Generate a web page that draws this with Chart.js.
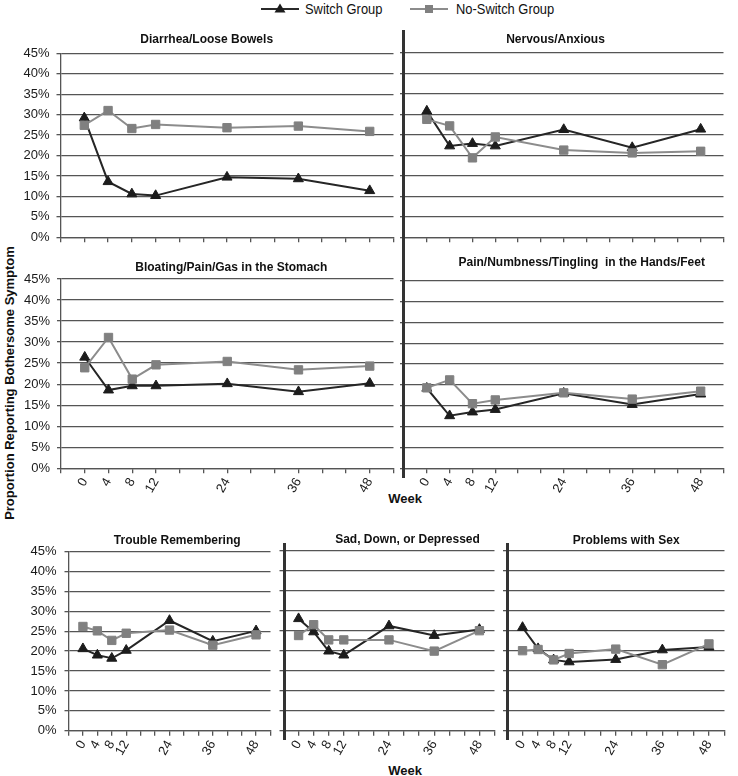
<!DOCTYPE html>
<html><head><meta charset="utf-8">
<script src="https://cdn.jsdelivr.net/npm/chart.js@4.4.1/dist/chart.umd.min.js"></script>
<style>
html,body{margin:0;padding:0;background:#fff;}
body{width:738px;height:776px;position:relative;overflow:hidden;font-family:'Liberation Sans',Arial,sans-serif;}
canvas{position:absolute;}
.divider{position:absolute;background:#333;width:3px;}
.lbl{position:absolute;font-weight:bold;color:#111;white-space:nowrap;}
.legtext{position:absolute;top:0px;font-size:15px;line-height:18px;color:#111;transform:scaleX(0.86);transform-origin:left center;white-space:nowrap;}
</style></head><body>
<div id="legend">
  <svg style="position:absolute;left:261px;top:2px" width="40" height="14"><line x1="0" y1="7" x2="38" y2="7" stroke="#2a2a2a" stroke-width="2"/><polygon points="19,1.5 24.5,10.5 13.5,10.5" fill="#1c1c1c"/></svg>
  <span class="legtext" id="leg0" style="left:305px"></span>
  <svg style="position:absolute;left:410px;top:2px" width="40" height="14"><line x1="0" y1="7" x2="38" y2="7" stroke="#8c8c8c" stroke-width="2"/><rect x="15" y="3" width="8" height="8" fill="#808080"/></svg>
  <span class="legtext" id="leg1" style="left:456px"></span>
</div>
<div class="lbl" id="ytitle" style="left:9px;top:383px;font-size:13px;transform:translate(-50%,-50%) rotate(-90deg);"></div>
<div class="lbl" id="week1" style="left:405px;top:498px;font-size:13px;transform:translate(-50%,-50%);"></div>
<div class="lbl" id="week2" style="left:405px;top:770px;font-size:13px;transform:translate(-50%,-50%);"></div>
<script>
// ---- data ----
const weeks = [0, 4, 8, 12, 24, 36, 48];
const weekTickLabels = ['0', '4', '8', '12', '24', '36', '48'];
const seriesNames = ['Switch Group', 'No-Switch Group'];
const yAxisTitle = 'Proportion Reporting Bothersome Symptom';
const xAxisTitle = 'Week';
const panelTitles = ['Diarrhea/Loose Bowels', 'Nervous/Anxious', 'Bloating/Pain/Gas in the Stomach',
  'Pain/Numbness/Tingling  in the Hands/Feet', 'Trouble Remembering', 'Sad, Down, or Depressed', 'Problems with Sex'];
const diarrheaSwitch   = [29.2, 13.6, 10.6, 10.2, 14.7, 14.3, 11.4];
const diarrheaNoSwitch = [27.4, 31.0, 26.6, 27.6, 26.8, 27.2, 25.9];
const nervousSwitch    = [30.8, 22.3, 22.9, 22.3, 26.3, 21.9, 26.4];
const nervousNoSwitch  = [28.8, 27.2, 19.4, 24.5, 21.3, 20.6, 21.0];
const bloatingSwitch   = [26.4, 18.6, 19.6, 19.6, 20.1, 18.2, 20.2];
const bloatingNoSwitch = [23.9, 31.1, 21.2, 24.6, 25.4, 23.4, 24.3];
const numbnessSwitch   = [19.2, 12.6, 13.5, 14.1, 18.0, 15.3, 17.8];
const numbnessNoSwitch = [19.3, 21.2, 15.5, 16.4, 18.1, 16.6, 18.5];
const rememberSwitch   = [20.6, 19.0, 18.2, 20.2, 27.7, 22.5, 25.1];
const rememberNoSwitch = [26.2, 25.1, 22.7, 24.5, 25.3, 21.5, 24.1];
const sadSwitch        = [28.0, 24.7, 19.9, 18.9, 26.2, 23.8, 25.3];
const sadNoSwitch      = [23.8, 26.5, 22.7, 22.7, 22.7, 19.9, 25.0];
const sexSwitch        = [25.8, 20.5, 17.7, 17.2, 17.8, 20.2, 20.9];
const sexNoSwitch      = [20.0, 20.3, 17.7, 19.3, 20.4, 16.5, 21.7];

// ---- text ----
document.getElementById('leg0').textContent = seriesNames[0];
document.getElementById('leg1').textContent = seriesNames[1];
document.getElementById('ytitle').textContent = yAxisTitle;
document.getElementById('week1').textContent = xAxisTitle;
document.getElementById('week2').textContent = xAxisTitle;

// ---- layout (page pixels) ----
const panels = [
  {s: diarrheaSwitch, n: diarrheaNoSwitch, area: [60.5, 53.3, 404.6, 237.3], title: [206.7, 39.3], yLabels: true,  xLabels: false, yPad: 7},
  {s: nervousSwitch,  n: nervousNoSwitch,  area: [404, 53, 735, 237.3],     title: [555.5, 39.3], yLabels: false, xLabels: false, yPad: 7},
  {s: bloatingSwitch, n: bloatingNoSwitch, area: [61, 279, 405, 468.3],     title: [231.3, 267.4], yLabels: true,  xLabels: true, yPad: 7},
  {s: numbnessSwitch, n: numbnessNoSwitch, area: [404, 280.7, 735, 468.3],  title: [581.7, 262.8], yLabels: false, xLabels: true, yPad: 7},
  {s: rememberSwitch, n: rememberNoSwitch, area: [68.5, 551.7, 281.9, 730.7], title: [177.2, 541], yLabels: true,  xLabels: true, yPad: 8},
  {s: sadSwitch,      n: sadNoSwitch,      area: [283.5, 550.7, 505.9, 730.7], title: [407.5, 540], yLabels: false, xLabels: true, yPad: 8},
  {s: sexSwitch,      n: sexNoSwitch,      area: [507, 550.7, 735.7, 730.7], title: [626.2, 540.5], yLabels: false, xLabels: true, yPad: 8}
];

Chart.defaults.font.family = "'Liberation Sans', Arial, sans-serif";
Chart.defaults.color = '#1a1a1a';

const panelTitlePlugin = {
  id: 'panelTitle',
  afterDraw(chart, args, opts) {
    const ctx = chart.ctx;
    ctx.save();
    ctx.font = "bold 12px 'Liberation Sans', Arial, sans-serif";
    ctx.fillStyle = '#111';
    ctx.textAlign = 'center';
    ctx.textBaseline = 'middle';
    ctx.fillText(opts.text, opts.x, opts.y);
    ctx.restore();
  }
};

const GRID = '#555555';

panels.forEach((p, i) => {
  const [l, t, r, b] = p.area;
  const cx = Math.max(0, Math.floor(l - 62));
  const cy = Math.floor(t - 32);
  const cw = Math.ceil(r - cx + 4);
  const ch = Math.ceil(b - cy + 52);
  const yW = l - cx;
  const xH = 46;
  const canvas = document.createElement('canvas');
  canvas.width = cw; canvas.height = ch;
  canvas.style.left = cx + 'px'; canvas.style.top = cy + 'px';
  canvas.style.width = cw + 'px'; canvas.style.height = ch + 'px';
  document.body.appendChild(canvas);
  const padTop = t - cy;
  const padRight = cx + cw - r;
  const padBottom = cy + ch - b - xH;
  new Chart(canvas, {
    type: 'line',
    data: {
      datasets: [
        {label: seriesNames[0], data: weeks.map((w, k) => ({x: w, y: p.s[k]})), order: 2,
         borderColor: '#262626', borderWidth: 2, backgroundColor: '#1c1c1c',
         pointStyle: 'triangle', pointRadius: 5.8, pointBorderWidth: 1, pointBorderColor: '#1c1c1c', pointBackgroundColor: '#1c1c1c', tension: 0},
        {label: seriesNames[1], data: weeks.map((w, k) => ({x: w, y: p.n[k]})), order: 1,
         borderColor: '#8c8c8c', borderWidth: 2, backgroundColor: '#808080',
         pointStyle: 'rect', pointRadius: 5.9, pointBorderWidth: 1, pointBorderColor: '#808080', pointBackgroundColor: '#808080', tension: 0}
      ]
    },
    options: {
      responsive: false, animation: false, devicePixelRatio: 1,
      layout: {padding: {left: 0, top: padTop, right: padRight, bottom: padBottom}},
      plugins: {legend: {display: false}, tooltip: {enabled: false}, title: {display: false},
        panelTitle: {text: panelTitles[i], x: p.title[0] - cx, y: p.title[1] - cy}},
      scales: {
        x: {type: 'linear', min: -4, max: 52,
          afterFit: (s) => { s.height = xH; },
          border: {display: true, color: GRID, width: 1.3},
          grid: {drawOnChartArea: false, drawTicks: true, tickLength: 5, color: GRID, lineWidth: 1.3},
          ticks: {stepSize: 4, autoSkip: false, minRotation: 60, maxRotation: 60, padding: 2,
            font: {size: 13}, color: '#1a1a1a',
            callback: (v) => { const k = weeks.indexOf(v); return (p.xLabels && k >= 0) ? weekTickLabels[k] : ''; }}
        },
        y: {type: 'linear', min: 0, max: 45,
          afterFit: (s) => { s.width = yW; },
          border: {display: true, color: GRID, width: 1.3},
          grid: {color: GRID, lineWidth: 1.3, drawTicks: true, tickLength: 4},
          ticks: {stepSize: 5, display: p.yLabels, padding: p.yPad, font: {size: 13}, color: '#1a1a1a',
            callback: (v) => v + '%'}
        }
      }
    },
    plugins: [panelTitlePlugin]
  });
});

// panel separators
[[402, 30, 448], [283, 543, 197], [506, 543, 197]].forEach(([x, y, h]) => {
  const d = document.createElement('div');
  d.className = 'divider';
  d.style.left = x + 'px'; d.style.top = y + 'px'; d.style.height = h + 'px';
  document.body.appendChild(d);
});
</script>
</body></html>
